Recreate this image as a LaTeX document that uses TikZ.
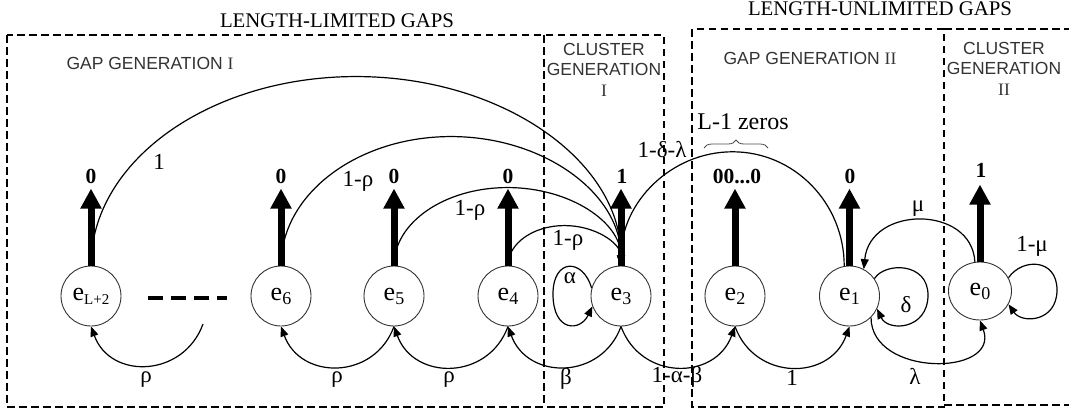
\documentclass[tikz,border=0pt]{standalone}
\usepackage{fontspec}
\setmainfont{Liberation Serif}
\newfontfamily\lsans{Liberation Sans}
\usetikzlibrary{arrows.meta,shapes.geometric,decorations.pathreplacing,calc}
\newcommand{\fs}[1]{\fontsize{#1}{#1}\selectfont}
\newcommand{\est}[2][18]{{\fs{26}e\raisebox{-4pt}{\fs{#1}#2}}}
\begin{document}
\begin{tikzpicture}[x=1pt,y=1pt,
  state/.style={circle,draw=black!80,line width=0.9pt,minimum size=60pt,inner sep=0pt},
  box/.style={draw,line width=1.1pt,dash pattern=on 7.5pt off 4.5pt},
  outz/.style={line width=7pt,-{Triangle[length=20pt,width=20pt]}},
  tr/.style={line width=1.2pt,-{Triangle[length=10pt,width=8pt]}},
  sym/.style={font=\fs{21.5}\bfseries,anchor=base},
  lab/.style={font=\fs{23}},
  gen/.style={font=\lsans\fontsize{17.5}{20.5}\selectfont,text=black!80,align=center},
  ttl/.style={font=\fs{20.8},anchor=base},
  bl/.style={out=-110,in=-70,looseness=1.3},
  br/.style={out=-70,in=-110,looseness=1.3},
]
\useasboundingbox (0,0) rectangle (1069,-416);

% boxes
\draw[box] (7,-35) rectangle (664,-407);
\draw[box] (544,-35) -- (544,-407);
\draw[box] (692,-29) rectangle (944,-407);
\draw[box] (944,-29) -- (1085,-29);
\draw[box] (944,-405) -- (1085,-405);

% titles
\node[ttl] (t1) at (337,-27) {LENGTH-LIMITED GAPS};
\node[ttl] (t2) at (880,-15) {LENGTH-UNLIMITED GAPS};
\node[gen,anchor=base] (g1) at (150,-69) {GAP GENERATION {\rmfamily I}};
\node[gen,anchor=base] (g2) at (810,-64) {GAP GENERATION {\rmfamily II}};
\node[gen] (c1) at (604,-69.5) {CLUSTER\\GENERATION\\{\rmfamily I}};
\node[gen] (c2) at (1004,-68.5) {CLUSTER\\GENERATION\\{\rmfamily II}};

% states
\node[state] (eL) at (91,-296) {\est[15]{L+2}};
\node[state] (e6) at (281,-296) {\est{6}};
\node[state] (e5) at (394,-296) {\est{5}};
\node[state] (e4) at (508,-296) {\est{4}};
\node[state] (e3) at (621,-296) {\est{3}};
\node[state] (e2) at (735,-296) {\est{2}};
\node[state] (e1) at (849.5,-296) {\est{1}};
\node[state,ellipse,minimum width=63pt,minimum height=58pt] (e0) at (980,-291) {\est{0}};

\draw[line width=4.5pt,dash pattern=on 15pt off 8pt] (148,-298) -- (227,-298);

% output arrows
\foreach \n in {eL,e6,e5,e4,e3,e2,e1,e0}{\draw[outz] (\n.north) -- ++(0,77);}
\node[sym] (oL) at (91,-183) {0};
\node[sym] (o6) at (281,-183) {0};
\node[sym] (o5) at (394,-183) {0};
\node[sym] (o4) at (508,-183) {0};
\node[sym] (o3) at (622,-183) {1};
\node[sym] (o2) at (737,-183) {00...0};
\node[sym] (o1) at (850,-183) {0};
\node[sym] (o0) at (981,-177) {1};

\node[font=\fs{24},anchor=base] (lz) at (743,-129) {L-1 zeros};
\draw[decorate,decoration={brace,amplitude=8pt},line width=0.8pt,black!70] (704,-148) -- (768,-148);

% top arcs into e3
\draw[tr] (eL.north) .. controls +(0,0.5523*189) and +(-0.5523*265,0) .. ($(eL.north)!.5!(e3.north)+(0,189)$) .. controls +(0.5523*265,0) and +(0,0.5523*189) .. (e3.north);
\draw[tr] (e6.north) .. controls +(0,0.5523*129) and +(-0.5523*170,0) .. ($(e6.north)!.5!(e3.north)+(0,129)$) .. controls +(0.5523*170,0) and +(0,0.5523*129) .. (e3.north);
\draw[tr] (e5.north) .. controls +(0,0.5523*78) and +(-0.5523*113.5,0) .. ($(e5.north)!.5!(e3.north)+(0,78)$) .. controls +(0.5523*113.5,0) and +(0,0.5523*78) .. (e3.north);
\draw[tr] (e4.north) .. controls +(0,0.5523*40) and +(-0.5523*56.5,0) .. ($(e4.north)!.5!(e3.north)+(0,40)$) .. controls +(0.5523*56.5,0) and +(0,0.5523*40) .. (e3.north);
\draw[tr] (e1.100) .. controls +(0,63) and +(61.7,0) .. ($(e1.100)!.5!(e3.north)+(0,114)$) .. controls +(-61.7,0) and +(0,63) .. (e3.north);

% mu arc
\draw[tr] (e0.100) .. controls (972,-205) and (870,-205) .. (e1.62);

% loops
\draw[tr] (e3.165) .. controls (583,-258) and (553,-258) .. (553,-294) .. controls (553,-332) and (580,-332) .. (e3.200);
\draw[tr] (e1.35) .. controls (885,-262) and (928,-262) .. (928,-295) .. controls (928,-330) and (888,-332) .. (e1.-25);
\draw[tr] (e0.25) .. controls (1022,-258) and (1057,-258) .. (1057,-290) .. controls (1057,-322) and (1022,-324) .. (e0.-25);

% bottom arcs
\coordinate (dang) at (203,-324);
\draw[tr] (dang) to[bl] (eL.south);
\draw[tr] (e5.south) to[bl] (e6.south);
\draw[tr] (e4.south) to[bl] (e5.south);
\draw[tr] (e3.south) to[bl] (e4.south);
\draw[tr] (e3.south) to[br] (e2.south);
\draw[tr] (e2.south) to[br] (e1.south);
\draw[tr] (e1.-45) to[out=-90,in=-70,looseness=1.4] (e0.south);

% edge labels
\node[lab] (a1) at (159,-162) {1};
\node[lab] (a2) at (358,-181) {1-ρ};
\node[lab] (a3) at (470,-210) {1-ρ};
\node[lab] (a4) at (568,-240) {1-ρ};
\node[lab,anchor=base] (a5) at (662,-157) {1-δ-λ};
\node[lab] (a6) at (918,-209) {μ};
\node[lab] (a7) at (1032,-246) {1-μ};
\node[lab] (a8) at (570,-278) {α};
\node[lab] (a9) at (906,-305) {δ};
\node[lab] (b1) at (146,-380) {ρ};
\node[lab] (b2) at (337,-380) {ρ};
\node[lab] (b3) at (449,-380) {ρ};
\node[lab] (b4) at (566,-379) {β};
\node[lab] (b5) at (677,-377) {1-α-β};
\node[lab] (b6) at (792,-378) {1};
\node[lab] (b7) at (915,-376) {λ};
\end{tikzpicture}
\end{document}
